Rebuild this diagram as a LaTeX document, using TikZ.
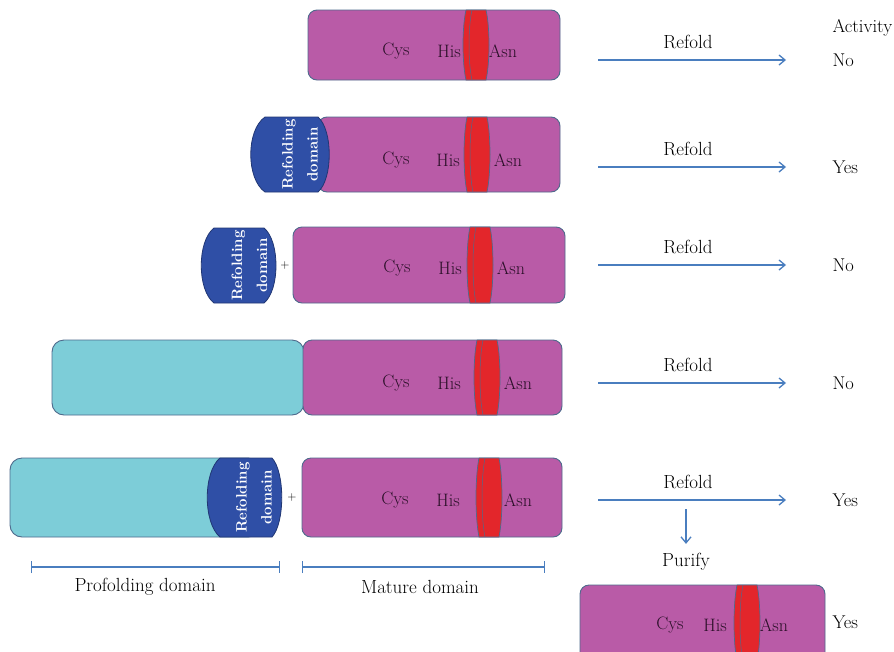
\documentclass[tikz,border=0pt]{standalone}
\usetikzlibrary{arrows.meta, positioning, calc}
\definecolor{mauve}{HTML}{B95BA7}
\definecolor{aqua}{HTML}{7DCDD8}
\definecolor{capblue}{HTML}{2F4FA6}
\definecolor{bandred}{HTML}{E3262B}
\definecolor{edge}{HTML}{4E6A8C}
\definecolor{plum}{HTML}{2A0F28}
\definecolor{arrowblue}{HTML}{4A7EBF}

% red band across a mature domain: centre x, top y, height
\newcommand\redband[3]{%
  \begin{scope}[shift={(#1,#2)}]
    \filldraw[draw=edge, line width=0.7pt, fill=bandred]
      (-10,0) -- (10,0) .. controls (14,{0.25*#3}) and (14,{0.75*#3}) .. (10,#3)
      -- (-10,#3) .. controls (-14,{0.75*#3}) and (-14,{0.25*#3}) .. (-10,0);
    \draw[edge, line width=0.5pt]
      (-4,0) .. controls (-8,{0.25*#3}) and (-8,{0.75*#3}) .. (-4,#3);
  \end{scope}}

\begin{document}
\begin{tikzpicture}[x=1pt, y=-1pt,
  >={Straight Barb[length=6pt, width=10pt]},
  mbox/.style={draw=edge, line width=0.9pt, fill=mauve, rounded corners=9pt,
    inner sep=0pt},
  cbox/.style={draw=edge, line width=0.9pt, fill=aqua, rounded corners=12pt,
    inner sep=0pt},
  capfill/.style={draw=capblue!70!black, line width=0.8pt, fill=capblue},
  capname/.style={rotate=90, text=white, align=center,
    font=\fontsize{15}{25}\selectfont\bfseries},
  res/.style={text=plum, font=\fontsize{18}{21}\selectfont},
  lbl/.style={text=black, font=\fontsize{19}{22}\selectfont},
  act/.style={text=black, font=\fontsize{18.5}{22}\selectfont, anchor=west},
  arr/.style={->, line width=1.3pt, arrowblue},
  span/.style={{Bar[width=12pt]}-{Bar[width=12pt]}, line width=1.3pt, arrowblue},
]

\clip (0,0) rectangle (894,651);
\fill[white] (0,0) rectangle (894,651);

% =============================================
% Row 1: mature domain alone
% =============================================
\node[mbox, minimum width=252pt, minimum height=70pt] (m1) at (434,45) {};
\redband{476}{10}{70}
\node[res] (cys1) at (396,51) {Cys};
\node[res] (his1) at (449,51) {His};
\node[res] (asn1) at (503,51) {Asn};

% =============================================
% Row 2: refolding domain fused
% =============================================
\node[mbox, minimum width=242pt, minimum height=75pt] (m2) at (439,154.5) {};
\redband{477}{117}{75}
\filldraw[capfill] (265,117) -- (318,117)
  .. controls (333,130) and (333,179) .. (318,192) -- (265,192)
  .. controls (246,179) and (246,130) .. (265,117);
\node[capname] (cap2) at (300,154.5) {Refolding\\domain};
\node[res] (cys2) at (396,160) {Cys};
\node[res] (his2) at (448,160) {His};
\node[res] (asn2) at (508,160) {Asn};

% =============================================
% Row 3: refolding domain added in trans
% =============================================
\filldraw[capfill] (214,228) -- (264,228)
  .. controls (280,241) and (280,290) .. (264,303) -- (214,303)
  .. controls (197,290) and (197,241) .. (214,228);
\node[capname] (cap3) at (249.5,265.5) {Refolding\\domain};
\node[font=\fontsize{12}{14}\selectfont] (plus3) at (285,266) {+};
\node[mbox, minimum width=272pt, minimum height=76pt] (m3) at (429,265) {};
\redband{480}{227}{76}
\node[res] (cys3) at (397,268) {Cys};
\node[res] (his3) at (450,268) {His};
\node[res] (asn3) at (511,268) {Asn};

% =============================================
% Row 4: profolding domain fused
% =============================================
\node[cbox, minimum width=252pt, minimum height=75pt] (c4) at (178,377.5) {};
\node[mbox, minimum width=259pt, minimum height=75pt] (m4) at (432.5,377.5) {};
\redband{487}{340}{75}
\node[res] (cys4) at (396,383) {Cys};
\node[res] (his4) at (449,383) {His};
\node[res] (asn4) at (518,383) {Asn};

% =============================================
% Row 5: profolding domain added in trans
% =============================================
\node[cbox, minimum width=250pt, minimum height=79pt] (c5) at (135,497.5) {};
\filldraw[capfill] (220,458) -- (272,458)
  .. controls (285,472) and (285,523) .. (272,537) -- (220,537)
  .. controls (203,523) and (203,472) .. (220,458);
\node[capname] (cap5) at (254,497.5) {Refolding\\domain};
\node[font=\fontsize{12}{14}\selectfont] (plus5) at (292,497) {+};
\node[mbox, minimum width=260pt, minimum height=79pt] (m5) at (432,497.5) {};
\redband{489}{458}{79}
\node[res] (cys5) at (395,500) {Cys};
\node[res] (his5) at (448,500) {His};
\node[res] (asn5) at (518,500) {Asn};

% Domain spans
\coordinate (pf-l) at (31,567);
\coordinate (pf-r) at (280,567);
\coordinate (md-l) at (302,567);
\coordinate (md-r) at (545,567);
\draw[span] (pf-l) -- (pf-r);
\draw[span] (md-l) -- (md-r);
\node[lbl] (pflbl) at (145,587) {Profolding domain};
\node[lbl] (mdlbl) at (420,587) {Mature domain};

% =============================================
% Refolding arrows and activity
% =============================================
\node[act] (head) at (829,28) {Activity};
\foreach \r/\y/\res in {1/60/No, 2/167/Yes, 3/265/No, 4/383/No, 5/500/Yes}{
  \coordinate (a\r) at (598,\y);
  \coordinate (b\r) at (786,\y);
  \draw[arr] (a\r) -- (b\r);
  \node[lbl] (rf\r) at (688,\y-18) {Refold};
  \node[act] (act\r) at (829,\y) {\res};
}

% Purified product
\coordinate (dn) at (686,509);
\node[lbl] (purify) at (686,562) {Purify};
\draw[arr, shorten >=6pt] (dn) -- (purify.north);
\node[mbox, minimum width=245pt, minimum height=76pt] (mp) at (702.5,623) {};
\redband{747}{585}{76}
\node[res] (cysp) at (670,625) {Cys};
\node[res] (hisp) at (715,625) {His};
\node[res] (asnp) at (774,625) {Asn};
\node[act] (actp) at (829,622) {Yes};

\end{tikzpicture}
\end{document}
